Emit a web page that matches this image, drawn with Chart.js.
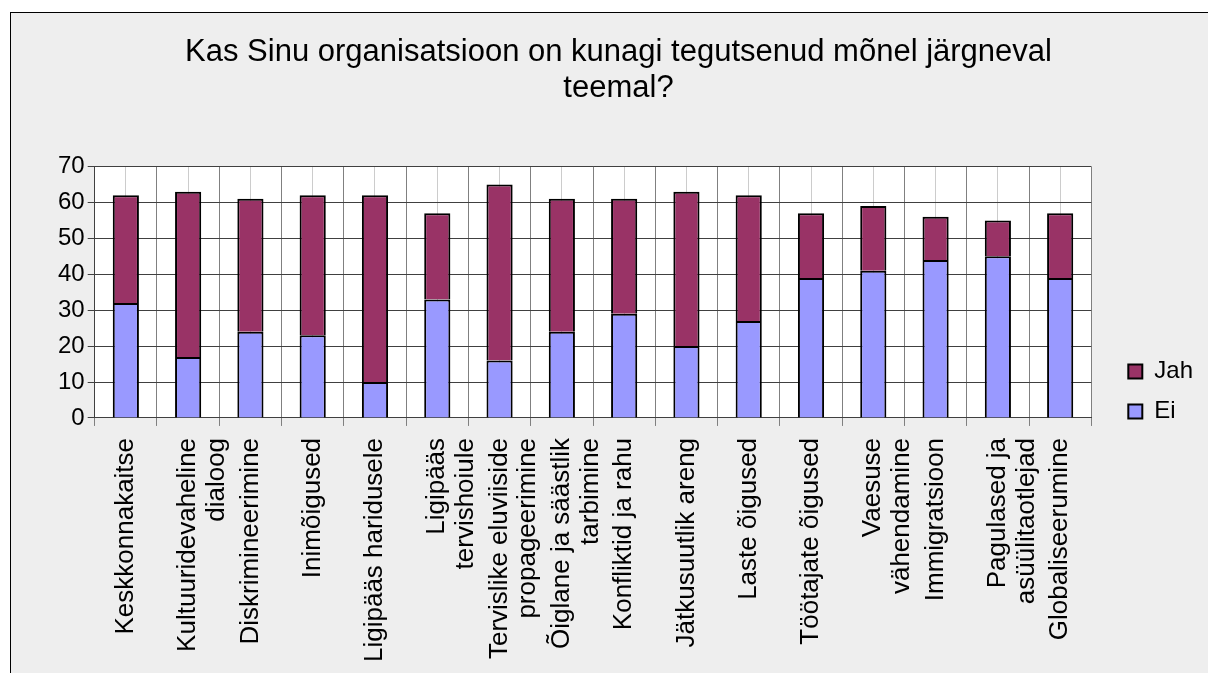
<!DOCTYPE html>
<html>
<head>
<meta charset="utf-8">
<script src="https://cdn.jsdelivr.net/npm/chart.js@4/dist/chart.umd.min.js"></script>
<style>
  body { margin: 0; background: #fff; overflow: hidden; }
  #frame {
    position: absolute; left: 10px; top: 12px;
    width: 1210px; height: 670px;
    border-top: 1px solid #000; border-left: 1px solid #000;
    background: #eeeeee;
  }
  #chart { display: block; }
</style>
</head>
<body>
<div id="frame"><canvas id="chart" width="1198" height="661"></canvas></div>
<script>
const categories = [
  'Keskkonnakaitse',
  ['Kultuuridevaheline', 'dialoog'],
  'Diskrimineerimine',
  'Inimõigused',
  'Ligipääs haridusele',
  ['Ligipääs', 'tervishoiule'],
  ['Tervislike eluviiside', 'propageerimine'],
  ['Õiglane ja säästlik', 'tarbimine'],
  'Konfliktid ja rahu',
  'Jätkusuutlik areng',
  'Laste õigused',
  'Töötajate õigused',
  ['Vaesuse', 'vähendamine'],
  'Immigratsioon',
  ['Pagulased ja', 'asüülitaotlejad'],
  'Globaliseerumine'
];
const ei  = [32, 17, 24, 23, 10, 33, 16, 24, 29, 20, 27, 39, 41, 44, 45, 39];
const jah = [30, 46, 37, 39, 52, 24, 49, 37, 32, 43, 35, 18, 18, 12, 10, 18];

Chart.defaults.font.family = "'Liberation Sans', Arial, sans-serif";
Chart.defaults.color = '#000';

// white plot area, like the Excel original
const plotBg = {
  id: 'plotBg',
  beforeDraw(chart) {
    const a = chart.chartArea;
    chart.ctx.save();
    chart.ctx.fillStyle = '#fff';
    chart.ctx.fillRect(a.left, a.top, a.right - a.left, a.bottom - a.top);
    chart.ctx.restore();
  }
};

// nudge the legend a bit away from the plot and down
const legendNudge = {
  id: 'legendNudge',
  afterLayout(chart) {
    const lg = chart.legend;
    lg.left += 21; lg.right += 21;
    lg.top += 48; lg.bottom += 48;
  }
};

const ctx = document.getElementById('chart').getContext('2d');
const chart = new Chart(ctx, {
  type: 'bar',
  data: {
    labels: categories,
    datasets: [
      {
        label: 'Ei',
        data: ei,
        backgroundColor: '#9999ff',
        borderColor: '#000',
        borderWidth: 2,
        xAxisID: 'x'
      },
      {
        label: 'Jah',
        data: jah,
        backgroundColor: '#993366',
        borderColor: '#000',
        borderWidth: 2,
        xAxisID: 'x'
      }
    ]
  },
  plugins: [plotBg, legendNudge],
  options: {
    responsive: false,
    animation: false,
    barPercentage: 0.42,
    categoryPercentage: 1,
    layout: {
      padding: { left: 44, right: 27, bottom: 0 }
    },
    plugins: {
      title: {
        display: true,
        text: ['Kas Sinu organisatsioon on kunagi tegutsenud mõnel järgneval', 'teemal?'],
        font: { size: 31, weight: 'normal', lineHeight: 1.17 },
        color: '#000',
        padding: { top: 21, bottom: 60 }
      },
      legend: {
        position: 'right',
        reverse: true,
        labels: {
          boxWidth: 14,
          boxHeight: 14,
          padding: 16,
          font: { size: 24 },
          color: '#000'
        }
      },
      tooltip: { enabled: false }
    },
    scales: {
      x: {
        stacked: true,
        grid: {
          color: '#808080',
          tickLength: 8
        },
        border: { color: '#404040' },
        ticks: {
          minRotation: 90,
          maxRotation: 90,
          padding: 12,
          font: { size: 26, lineHeight: 1.1 },
          color: '#000'
        }
      },
      xc: {
        type: 'category',
        position: 'bottom',
        offset: true,
        grid: {
          offset: false,
          color: '#cccccc',
          drawTicks: false
        },
        border: { display: false },
        ticks: { display: false }
      },
      y: {
        stacked: true,
        min: 0,
        max: 70,
        ticks: {
          stepSize: 10,
          padding: 3,
          font: { size: 24 },
          color: '#000'
        },
        grid: {
          color: '#404040',
          tickLength: 7
        },
        border: { color: '#404040' }
      }
    }
  }
});
</script>
</body>
</html>
